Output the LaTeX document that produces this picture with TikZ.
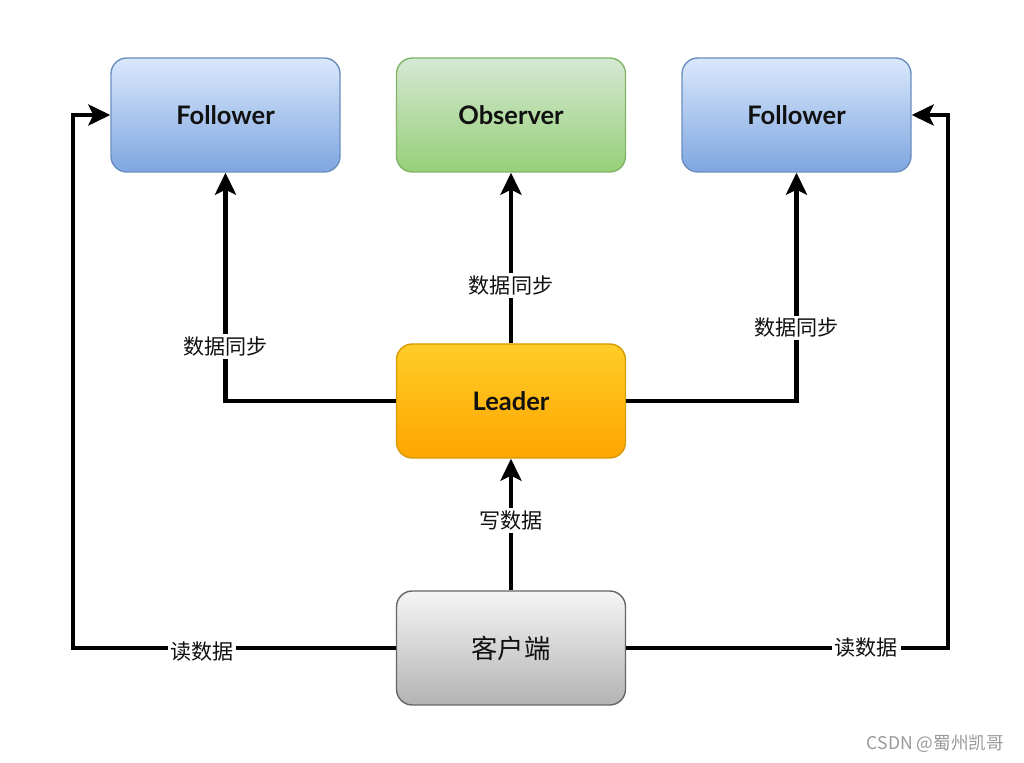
\documentclass[tikz,border=0pt]{standalone}
\usepackage{fontspec}
\setmainfont{Lato}
\newfontfamily\cjk{Noto Sans CJK SC}
\usepackage{xcolor}
\usepackage{tikz}
\usetikzlibrary{
  arrows.meta,
  calc,
  positioning
}
\definecolor{ink}{HTML}{111111}
\definecolor{blueTop}{HTML}{DAE8FC}
\definecolor{blueBot}{HTML}{7EA6E0}
\definecolor{blueLine}{HTML}{6C8EBF}
\definecolor{greenTop}{HTML}{D5E8D4}
\definecolor{greenBot}{HTML}{97D077}
\definecolor{greenLine}{HTML}{82B366}
\definecolor{orangeTop}{HTML}{FFCD28}
\definecolor{orangeBot}{HTML}{FFA500}
\definecolor{orangeLine}{HTML}{D79B00}
\definecolor{grayTop}{HTML}{F5F5F5}
\definecolor{grayBot}{HTML}{B3B3B3}
\definecolor{grayLine}{HTML}{666666}
\definecolor{markgray}{HTML}{9A9A9A}
\tikzset{
  every node/.style={text=ink},
  rolebox/.style={
    rounded corners=9pt,
    line width=0.8pt,
    align=center,
    minimum width=4.58cm,
    minimum height=2.28cm,
    inner sep=3pt,
    font=\fontsize{14.5}{18}\selectfont\bfseries
  },
  followerbox/.style={rolebox, draw=blueLine, top color=blueTop, bottom color=blueBot},
  observerbox/.style={rolebox, draw=greenLine, top color=greenTop, bottom color=greenBot},
  leaderbox/.style={rolebox, draw=orangeLine, top color=orangeTop, bottom color=orangeBot},
  clientbox/.style={rolebox, draw=grayLine, top color=grayTop, bottom color=grayBot,
    font=\cjk\fontsize{15}{18}\selectfont},
  flow/.style={-{Stealth[length=4.4mm,width=4.2mm,inset=1mm]}, line width=2.4pt, draw=black},
  flowlabel/.style={fill=white, inner sep=1.5pt, font=\cjk\fontsize{12}{14}\selectfont}
}

\begin{document}
\begin{tikzpicture}[x=1cm, y=1cm]

  \useasboundingbox (0,0) rectangle (20.48,15.26);
  \fill[white] (0,0) rectangle (20.48,15.26);

  % =====================================================================
  % TOP ROW — replicas
  % =====================================================================
  \node[followerbox] (folL) at (4.51, 12.96) {Follower};
  \node[observerbox] (obs)  at (10.22, 12.96) {Observer};
  \node[followerbox] (folR) at (15.93, 12.96) {Follower};

  % Leader and client
  \node[leaderbox] (lead)   at (10.22, 7.24) {Leader};
  \node[clientbox] (client) at (10.22, 2.30) {客户端};

  % corners of the outer read loops
  \coordinate (readL) at (1.46, 12.96);
  \coordinate (readR) at (18.96, 12.96);

  % =====================================================================
  % Sync from leader
  % =====================================================================
  \draw[flow] (lead.west) -| (folL.south)
    node[flowlabel, pos=0.62] {数据同步};
  \draw[flow] (lead.north) -- (obs.south)
    node[flowlabel, pos=0.34] {数据同步};
  \draw[flow] (lead.east) -| (folR.south)
    node[flowlabel, pos=0.66] {数据同步};

  % Write from client
  \draw[flow] (client.north) -- (lead.south)
    node[flowlabel, pos=0.53] {写数据};

  % Reads from client (outer loops)
  \draw[flow] (client.west)
    -| node[flowlabel, pos=0.30, yshift=-0.08cm] {读数据} (readL)
    -- (folL.west);
  \draw[flow] (client.east)
    -| node[flowlabel, pos=0.373] {读数据} (readR)
    -- (folR.east);

  \node[anchor=east, text=markgray, font=\cjk\fontsize{10}{12}\selectfont]
    (mark) at (20.2, 0.38) {CSDN @蜀州凯哥};

\end{tikzpicture}
\end{document}
